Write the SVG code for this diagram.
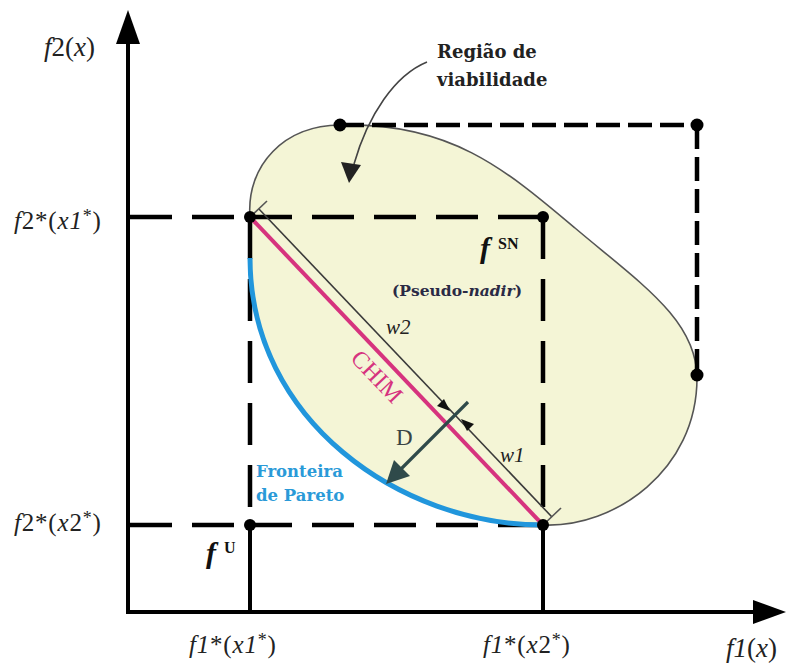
<svg xmlns="http://www.w3.org/2000/svg" width="787" height="663" viewBox="0 0 787 663">
<defs>
<style>
.ax{stroke:#000;stroke-width:4;fill:none}
.dash{stroke:#000;stroke-width:4.5;fill:none;stroke-dasharray:42 20}
.fine{stroke:#000;stroke-width:4.5;fill:none;stroke-dasharray:24 8}
.dot{fill:#000}
.lbl{font-family:"Liberation Serif",serif}
.bold{font-family:"DejaVu Serif","Liberation Serif",serif;font-weight:bold}
</style>
</defs>
<rect width="787" height="663" fill="#fff"/>
<g id="region">
<path d="M250,217 C246,165 285,125 340,125 C 450,122 505,169 575,228 C 640,283 697,320 697,378 C 697,470 615,528 543,525 C 400,525 250,420 250,258 Z" fill="#f4f5d6" stroke="none"/>
<path d="M250,217 C246,165 285,125 340,125 C 450,122 505,169 575,228 C 640,283 697,320 697,378 C 697,470 615,528 543,525" fill="none" stroke="#555" stroke-width="1.6"/>
</g>
<g id="axes">
<line class="ax" x1="128" y1="614" x2="128" y2="40"/>
<path d="M116,44 L128,10 L140,44 Z" fill="#000"/>
<line class="ax" x1="126" y1="612" x2="755" y2="612"/>
<path d="M753,600 L786,612 L753,624 Z" fill="#000"/>
<line class="ax" x1="250" y1="525" x2="250" y2="612"/>
<line class="ax" x1="543" y1="525" x2="543" y2="612"/>
</g>
<g id="guides">
<line class="dash" x1="130" y1="217" x2="250" y2="217"/>
<line class="dash" x1="250" y1="217" x2="543" y2="217"/>
<line class="dash" x1="130" y1="525" x2="250" y2="525"/>
<line class="dash" x1="250" y1="525" x2="543" y2="525"/>
<line class="dash" x1="250" y1="217" x2="250" y2="525"/>
<line class="dash" x1="543" y1="217" x2="543" y2="525"/>
<line class="fine" x1="340" y1="125" x2="697" y2="125"/>
<line class="fine" x1="697" y1="125" x2="697" y2="375"/>
</g>
<g id="pareto">
<path d="M250,258 C250,420 400,525 543,525" fill="none" stroke="#2196dc" stroke-width="5"/>
</g>
<g id="chim">
<line x1="250" y1="217" x2="543" y2="525" stroke="#d6337e" stroke-width="4"/>
<line x1="258.7" y1="208.7" x2="551.7" y2="516.7" stroke="#3a3a3a" stroke-width="1.6"/>
<line x1="248" y1="219" x2="267" y2="201" stroke="#555" stroke-width="1.6"/>
<line x1="541" y1="527" x2="561" y2="508" stroke="#555" stroke-width="1.6"/>
<path d="M450,411 L437,406 L444,399 Z" fill="#111"/>
<path d="M461,419 L474,424 L467,431 Z" fill="#111"/>
</g>
<g id="connectors">
<path d="M427,62 C 395,75 368,115 354,164" fill="none" stroke="#444" stroke-width="1.6"/>
<path d="M341,162 L349,183 L361,165 Z" fill="#222"/>
<line x1="468" y1="402" x2="398" y2="472" stroke="#2f4a4a" stroke-width="3.2"/>
<path d="M386,484 L394,460 L410,476 Z" fill="#2f4a4a"/>
</g>
<g id="points">
<circle class="dot" cx="250" cy="217" r="6"/>
<circle class="dot" cx="543" cy="217" r="6"/>
<circle class="dot" cx="250" cy="525" r="6"/>
<circle class="dot" cx="543" cy="525" r="6"/>
<circle class="dot" cx="340" cy="125" r="6.5"/>
<circle class="dot" cx="697" cy="125" r="6.5"/>
<circle class="dot" cx="697" cy="375" r="6.5"/>
</g>
<g id="labels" fill="#222">
<text class="lbl" x="44" y="56" font-size="27"><tspan font-style="italic">f</tspan>2(<tspan font-style="italic">x</tspan>)</text>
<text class="lbl" x="14" y="229" font-size="25" letter-spacing="0.8"><tspan font-style="italic">f</tspan>2*(<tspan font-style="italic">x1</tspan><tspan dy="-7" font-size="18">*</tspan><tspan dy="7">)</tspan></text>
<text class="lbl" x="14" y="531" font-size="25" letter-spacing="0.8"><tspan font-style="italic">f</tspan>2*(<tspan font-style="italic">x</tspan>2<tspan dy="-7" font-size="18">*</tspan><tspan dy="7">)</tspan></text>
<text class="lbl" x="189" y="653" font-size="25" letter-spacing="0.8"><tspan font-style="italic">f1</tspan>*(<tspan font-style="italic">x1</tspan><tspan dy="-7" font-size="18">*</tspan><tspan dy="7">)</tspan></text>
<text class="lbl" x="483" y="653" font-size="25" letter-spacing="0.8"><tspan font-style="italic">f1</tspan>*(<tspan font-style="italic">x</tspan>2<tspan dy="-7" font-size="18">*</tspan><tspan dy="7">)</tspan></text>
<text class="lbl" x="726" y="657" font-size="27"><tspan font-style="italic">f1</tspan>(<tspan font-style="italic">x</tspan>)</text>
<text class="bold" x="437" y="58" font-size="18">Região de</text>
<text class="bold" x="437" y="86" font-size="18">viabilidade</text>
<text class="lbl" x="480" y="258" font-size="30" font-style="italic" font-weight="bold" fill="#111">f</text>
<text class="lbl" x="498" y="249" font-size="16" font-weight="bold" fill="#111">SN</text>
<text class="bold" x="392" y="296" font-size="15.5" fill="#2a2a45">(Pseudo-<tspan font-style="italic">nadir</tspan>)</text>
<text class="lbl" x="206" y="563" font-size="30" font-style="italic" font-weight="bold" fill="#111">f</text>
<text class="lbl" x="224" y="553" font-size="16" font-weight="bold" fill="#111">U</text>
<text class="lbl" x="386" y="334" font-size="21" font-style="italic">w2</text>
<text class="lbl" x="500" y="462" font-size="21" font-style="italic">w1</text>
<text class="lbl" x="396" y="445" font-size="23" fill="#3a4444">D</text>
<text class="lbl" x="0" y="0" font-size="24" fill="#d6337e" text-anchor="middle" transform="translate(371,382) rotate(46.4)">CHIM</text>
<text class="bold" x="256" y="477" font-size="16.5" fill="#2a9ad8">Fronteira</text>
<text class="bold" x="256" y="501" font-size="16.5" fill="#2a9ad8">de Pareto</text>
</g>
</svg>
